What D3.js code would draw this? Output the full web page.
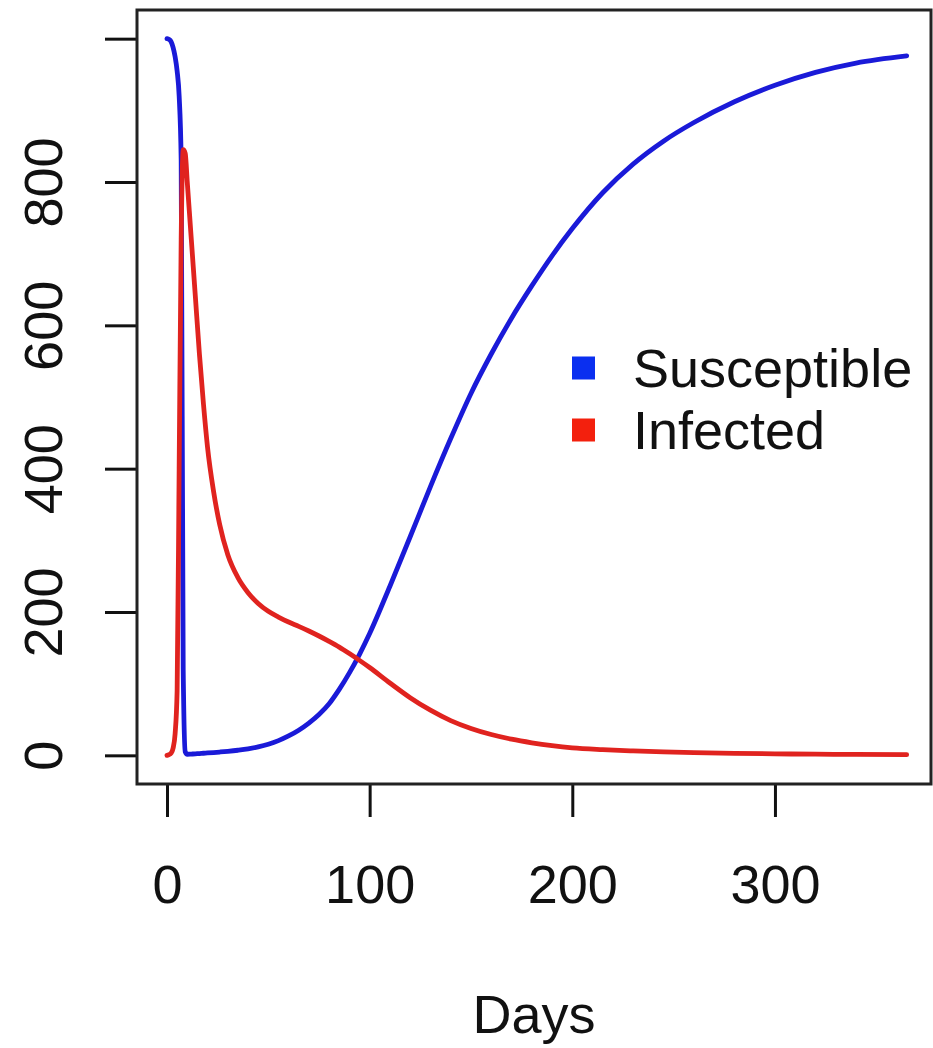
<!DOCTYPE html>
<html>
<head>
<meta charset="utf-8">
<script src="https://cdn.jsdelivr.net/npm/d3@7"></script>
<style>
    body { margin: 0; background: #fff; }
    svg { display: block; }
    text { font-family: "Liberation Sans", Arial, Helvetica, sans-serif; fill: #111; }
</style>
</head>
<body>
<div id="chart"></div>
<script>
// simulated days (x values)
var days = [0, 1, 2, 3, 4, 5, 6, 7, 8, 9, 10, 12, 14, 16, 18, 20, 23, 26, 30, 35,
    40, 45, 50, 55, 60, 65, 70, 75, 80, 85, 90, 95, 100, 110, 120, 130, 140, 150,
    160, 170, 180, 190, 200, 215, 230, 245, 260, 280, 300, 320, 340, 365];

// susceptible population
var susceptible = [1000, 999, 996, 988, 975, 955, 920, 830, 120, 5, 1.5, 1.8, 2.1, 2.5, 2.9, 3.3, 3.9, 4.6, 5.6, 7.1,
    9, 11.8, 15.5, 20.5, 27, 35, 45, 57, 72, 92, 115, 141, 170, 236, 305, 375, 442, 505,
    560, 610, 655, 697, 735, 785, 825, 857, 883, 912, 935, 953, 966, 976];

// infected population
var infected = [0, 1, 3, 10, 30, 90, 400, 720, 845, 840, 800, 720, 640, 560, 490, 430, 368, 322, 280, 248,
    227, 212, 201, 193, 186, 180, 173.5, 166.5, 159, 151, 142, 132.5, 122.5, 101, 80.5, 63, 48.5, 37.5,
    29, 22.5, 17.5, 13.5, 10.5, 8, 6.2, 4.8, 3.8, 2.8, 2.1, 1.6, 1.2, 0.9];

var xTicks = [0, 100, 200, 300];
var yTicks = [0, 200, 400, 600, 800, 1000];
var yTickLabels = ["0", "200", "400", "600", "800", ""];

var seriesNames = ["Susceptible", "Infected"];
var lineColors = ["#1a1ad8", "#e0231f"];
var keyColors = ["#0a2ff0", "#f3200d"];

// setup variables
var W = 933, H = 1048;
var margin = {top: 10, left: 137},
    width = 794,
    height = 774,
    fontSize = 54;

var svg = d3.select("#chart")
    .append("svg")
    .attr("width", W)
    .attr("height", H);

var g = svg.append("g")
    .attr("transform", "translate(" + margin.left + "," + margin.top + ")");

var x = d3.scaleLinear()
    .domain([-14.8, 377])
    .range([0, width]);

var y = d3.scaleLinear()
    .domain([-40, 1040])
    .range([height, 0]);

// x axis (R style: long ticks, labels well below)
var xAxis = g.append("g")
    .attr("transform", "translate(0," + height + ")")
    .call(d3.axisBottom(x).tickValues(xTicks).tickSize(33).tickFormat(d3.format("d")));
xAxis.select(".domain").remove();
xAxis.selectAll("line").attr("stroke", "#111").attr("stroke-width", 3);
xAxis.selectAll("text")
    .attr("y", 119)
    .attr("dy", 0)
    .style("font-size", fontSize + "px")
    .style("font-family", "'Liberation Sans', Arial, sans-serif")
    .attr("fill", "#111");

// y axis, labels rotated parallel to the axis
var yAxis = g.append("g")
    .call(d3.axisLeft(y).tickValues(yTicks).tickSize(32)
        .tickFormat(function(d, i){ return yTickLabels[i]; }));
yAxis.select(".domain").remove();
yAxis.selectAll("line").attr("stroke", "#111").attr("stroke-width", 3);
yAxis.selectAll("text")
    .attr("x", 0)
    .attr("dy", 0)
    .attr("text-anchor", "middle")
    .attr("transform", "translate(-75,0) rotate(-90)")
    .style("font-size", fontSize + "px")
    .style("font-family", "'Liberation Sans', Arial, sans-serif")
    .attr("fill", "#111");

// the curves
var series = [susceptible, infected];
var line = d3.line()
    .x(function(d){ return x(d[0]); })
    .y(function(d){ return y(d[1]); })
    .curve(d3.curveMonotoneX);

series.forEach(function(vals, i){
    g.append("path")
        .datum(days.map(function(d, j){ return [d, vals[j]]; }))
        .attr("fill", "none")
        .attr("stroke", lineColors[i])
        .attr("stroke-width", 4.8)
        .attr("stroke-linejoin", "round")
        .attr("stroke-linecap", "round")
        .attr("d", line);
});

// plot box
g.append("rect")
    .attr("x", 0)
    .attr("y", 0)
    .attr("width", width)
    .attr("height", height)
    .attr("fill", "none")
    .attr("stroke", "#222")
    .attr("stroke-width", 3);

// legend
var legend = svg.append("g")
    .attr("transform", "translate(572,368)");

legend.selectAll("rect")
    .data(seriesNames).enter()
    .append("rect")
    .attr("x", 0)
    .attr("y", function(d, i){ return i * 62 - 11.5; })
    .attr("width", 23)
    .attr("height", 23)
    .attr("fill", function(d, i){ return keyColors[i]; });

legend.selectAll("text")
    .data(seriesNames).enter()
    .append("text")
    .attr("x", 61)
    .attr("y", function(d, i){ return i * 62 + 19; })
    .style("font-size", fontSize + "px")
    .text(function(d){ return d; });

// axis title
svg.append("text")
    .attr("x", margin.left + width / 2)
    .attr("y", 1033)
    .attr("text-anchor", "middle")
    .style("font-size", fontSize + "px")
    .text("Days");
</script>
</body>
</html>
